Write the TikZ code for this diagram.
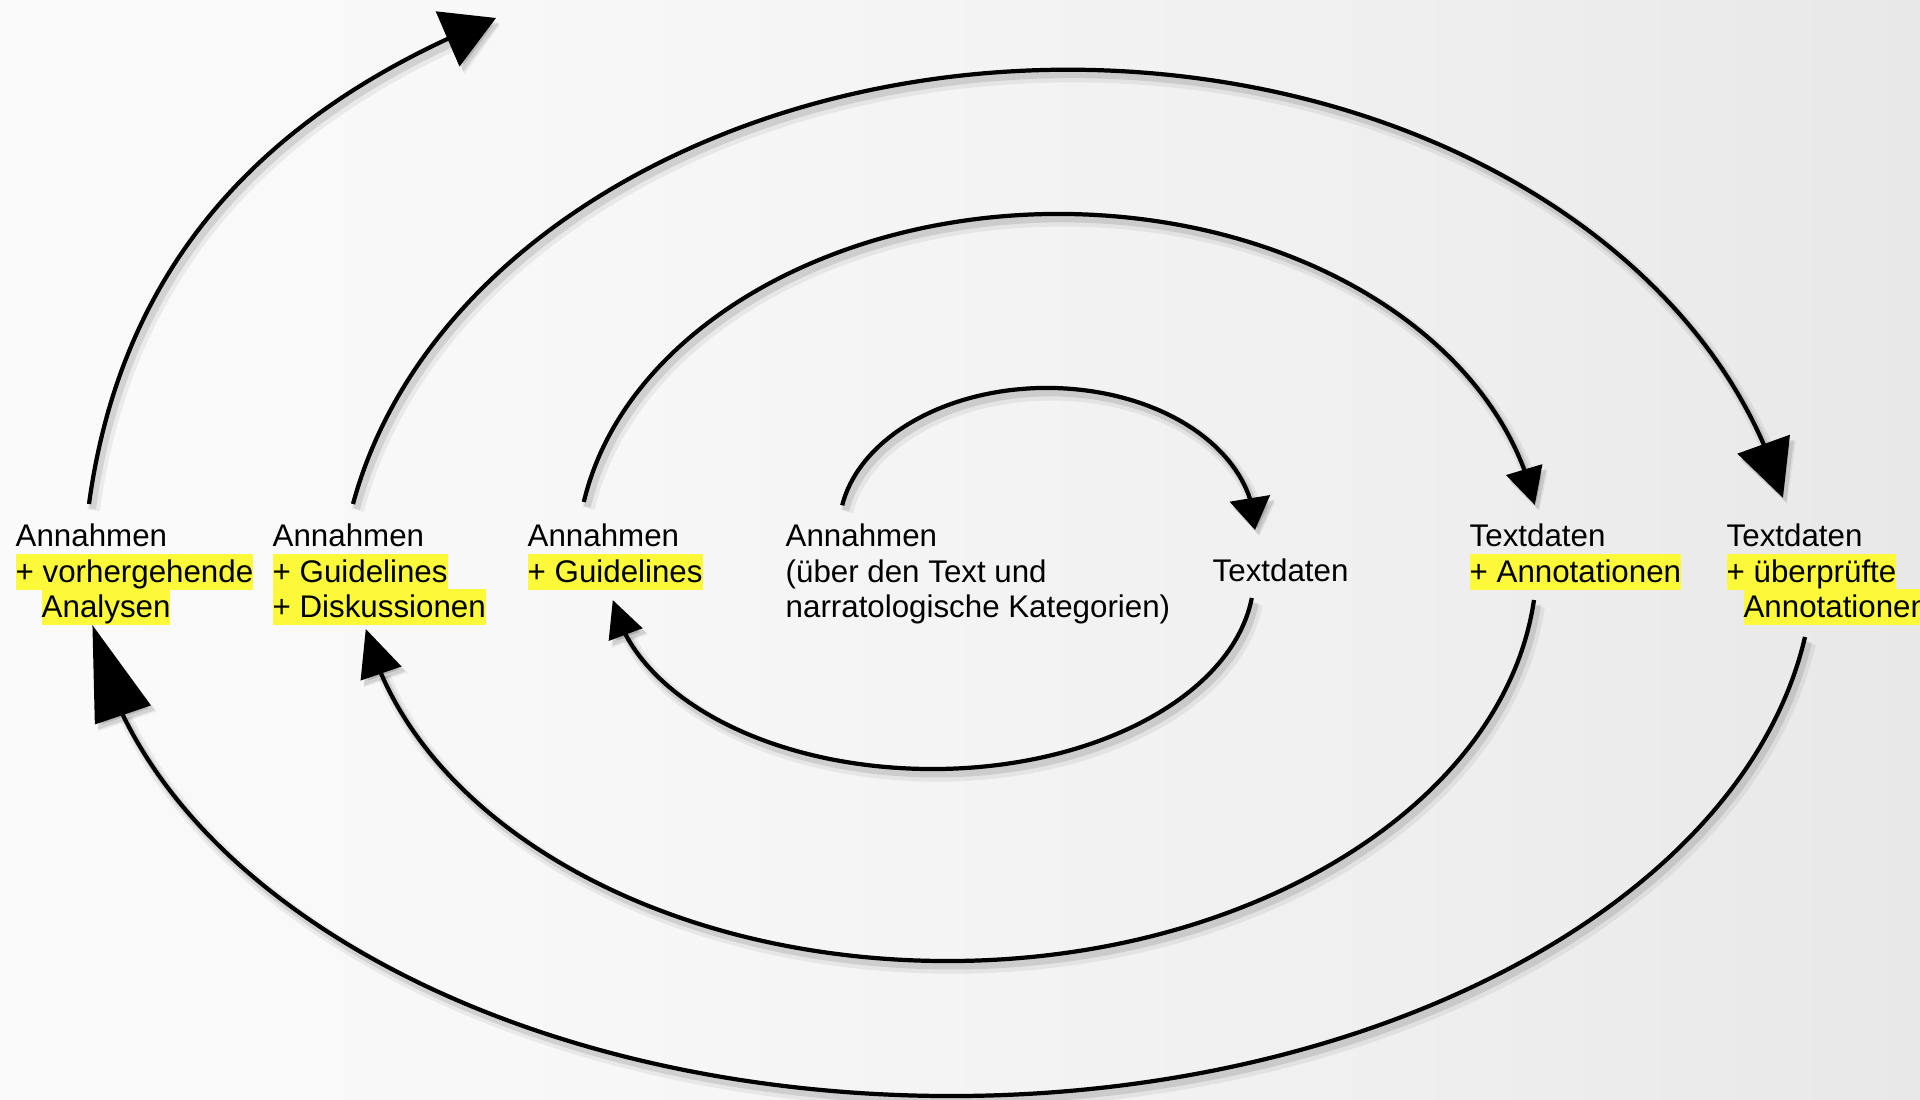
\documentclass[tikz,border=0pt]{standalone}
\usepackage{fontspec}
\setmainfont{Liberation Sans}
\usetikzlibrary{arrows.meta,bending}
\definecolor{hly}{HTML}{FCF93A}
\pgfdeclarehorizontalshading{bgshade}{100bp}{color(0bp)=(white); color(40bp)=(black!3); color(60bp)=(black!6); color(80bp)=(black!10); color(100bp)=(black!17)}
\newcommand{\hl}[1]{{\setlength{\fboxsep}{0pt}\colorbox{hly}{\rule[-2.1pt]{0pt}{10.2pt}#1}}}
\newcommand{\lstack}[1]{\vtop{\baselineskip=10pt\lineskiplimit=-20pt\lineskip=0pt #1}}
\tikzset{
  txt/.style={anchor=base west, inner sep=0pt, font=\fontsize{8.9pt}{10pt}\selectfont},
  conn/.style={line width=1.2pt, draw=black,
    preaction={draw=black, opacity=0.06, line width=3.6pt,
      transform canvas={shift={(1.3pt,-1.8pt)}}},
    preaction={draw=black, opacity=0.10, line width=2.0pt,
      transform canvas={shift={(1.0pt,-1.4pt)}}}},
}
\begin{document}
\begin{tikzpicture}[x=0.01cm,y=0.01cm]
\useasboundingbox (0,0) rectangle (1920,1100);
\shade[shading=bgshade] (0,0) rectangle (1920,1100);

% text groups
\node[txt] (c1) at (15,553) {\lstack{\hbox{Annahmen}\hbox{\hl{+ vorhergehende}}\hbox{\hspace{7.4pt}\hl{Analysen}}}};
\node[txt] (c2) at (272,553) {\lstack{\hbox{Annahmen}\hbox{\hl{+ Guidelines}}\hbox{\hl{+ Diskussionen}}}};
\node[txt] (c3) at (527,553) {\lstack{\hbox{Annahmen}\hbox{\hl{+ Guidelines}}}};
\node[txt] (c4) at (785,553) {\lstack{\hbox{Annahmen}\hbox{(über den Text und}\hbox{narratologische Kategorien)}}};
\node[txt] (c5) at (1212,518) {Textdaten};
\node[txt] (c6) at (1469,553) {\lstack{\hbox{Textdaten}\hbox{\hl{+ Annotationen}}}};
\node[txt] (c7) at (1726,553) {\lstack{\hbox{Textdaten}\hbox{\hl{+ überprüfte}}\hbox{\hspace{4.8pt}\hl{Annotationen}}}};

% arc start / end points
\coordinate (a1s) at (842.2,594.7);
\coordinate (a2s) at (1251.8,502);
\coordinate (a3s) at (583.8,598);
\coordinate (a4s) at (1534,500);
\coordinate (a5s) at (353,596);
\coordinate (a6s) at (1805,463);
\coordinate (a7s) at (89,596);
\coordinate (a7e) at (496,1082);

% c4 -> c5
\draw[conn,-{Triangle[length=9.1pt,width=11.4pt]}] (a1s) arc[start angle=170, end angle=0, x radius=208, y radius=142];
% c5 -> c3
\draw[conn,-{Triangle[length=10.5pt,width=10pt]}] (a2s) arc[start angle=-6.8, end angle=-172.6, x radius=322, y radius=194];
% c3 -> c6
\draw[conn,-{Triangle[length=10.5pt,width=10.5pt]}] (a3s) arc[start angle=170.35, end angle=9.15, x radius=482, y radius=346];
% c6 -> c2
\draw[conn,-{Triangle[length=13.4pt,width=12pt]}] (a4s) arc[start angle=-5.72, end angle=-170.1, x radius=590, y radius=401];
% c2 -> c7
\draw[conn,-{Triangle[length=16.2pt,width=15.6pt]}] (a5s) arc[start angle=168.7, end angle=11.97, x radius=730, y radius=540];
% c7 -> c1
\draw[conn,-{Triangle[length=27pt,width=16.5pt]}] (a6s) arc[start angle=-8.26, end angle=-173.03, x radius=864, y radius=536];
% c1 -> out
\draw[conn,-{Triangle[length=15pt,width=16.8pt]}] (a7s) .. controls (125,860) and (292,1000) .. (a7e);
\end{tikzpicture}
\end{document}
